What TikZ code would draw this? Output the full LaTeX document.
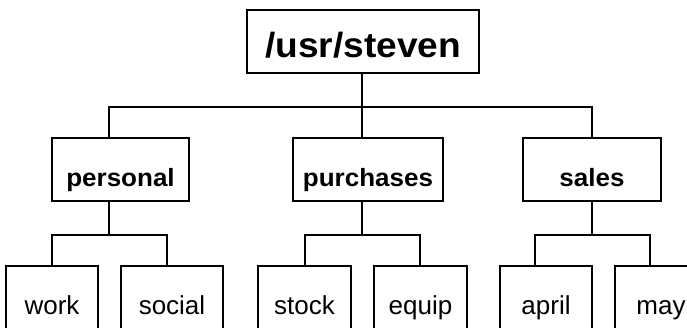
\documentclass[tikz,border=0pt]{standalone}
\usepackage{fontspec}
\setmainfont{Liberation Sans}
\newfontfamily\midfont[FakeStretch=1.04]{Liberation Sans}
\newfontfamily\topfont[FakeStretch=1.06]{Liberation Sans}
\usepackage{tikz}

\begin{document}
\begin{tikzpicture}[x=1pt,y=-1pt,line width=1.8pt,
  box/.style={draw,inner sep=0pt,minimum height=63pt,text depth=0pt},
  dir/.style={box,text height=33pt,font=\midfont\bfseries\fontsize{25}{25}\selectfont},
  leaf/.style={draw,inner sep=0pt,minimum height=78pt,text height=18pt,text depth=0pt,font=\fontsize{26}{26}\selectfont}]
\clip (0,0) rectangle (687,327);
\node [box,minimum width=232pt,text height=31pt,font=\topfont\bfseries\fontsize{35}{35}\selectfont] (steven) at (363,41.5) {/usr/steven};
\node [dir,minimum width=137pt] (personal) at (120.5,169.5) {personal};
\node [dir,minimum width=150pt] (purchases) at (368,169.5) {purchases};
\node [dir,minimum width=138pt] (sales) at (592,169.5) {sales};
\node [leaf,minimum width=92pt] (work) at (52,305) {work};
\node [leaf,minimum width=102pt] (social) at (172,305) {social};
\node [leaf,minimum width=93pt] (stock) at (304.5,305) {stock};
\node [leaf,minimum width=93pt] (equip) at (420.5,305) {equip};
\node [leaf,minimum width=92pt] (april) at (546,305) {april};
\node [leaf,minimum width=92pt] (may) at (661,305) {may};
\draw ([xshift=-1pt]steven.south) -- ++(0,33) -| ([xshift=-11.5pt]personal.north);
\draw ([xshift=-1pt]steven.south) -- ++(0,33) -| ([xshift=-6pt]purchases.north);
\draw ([xshift=-1pt]steven.south) -- ++(0,33) -| (sales.north);
\draw ([xshift=-11.5pt]personal.south) -- ++(0,33) -| (work.north);
\draw ([xshift=-11.5pt]personal.south) -- ++(0,33) -| ([xshift=-5pt]social.north);
\draw ([xshift=-6pt]purchases.south) -- ++(0,33) -| ([xshift=0.5pt]stock.north);
\draw ([xshift=-6pt]purchases.south) -- ++(0,33) -| ([xshift=-0.5pt]equip.north);
\draw (sales.south) -- ++(0,33) -| ([xshift=-11pt]april.north);
\draw (sales.south) -- ++(0,33) -| ([xshift=-11pt]may.north);
\end{tikzpicture}
\end{document}
